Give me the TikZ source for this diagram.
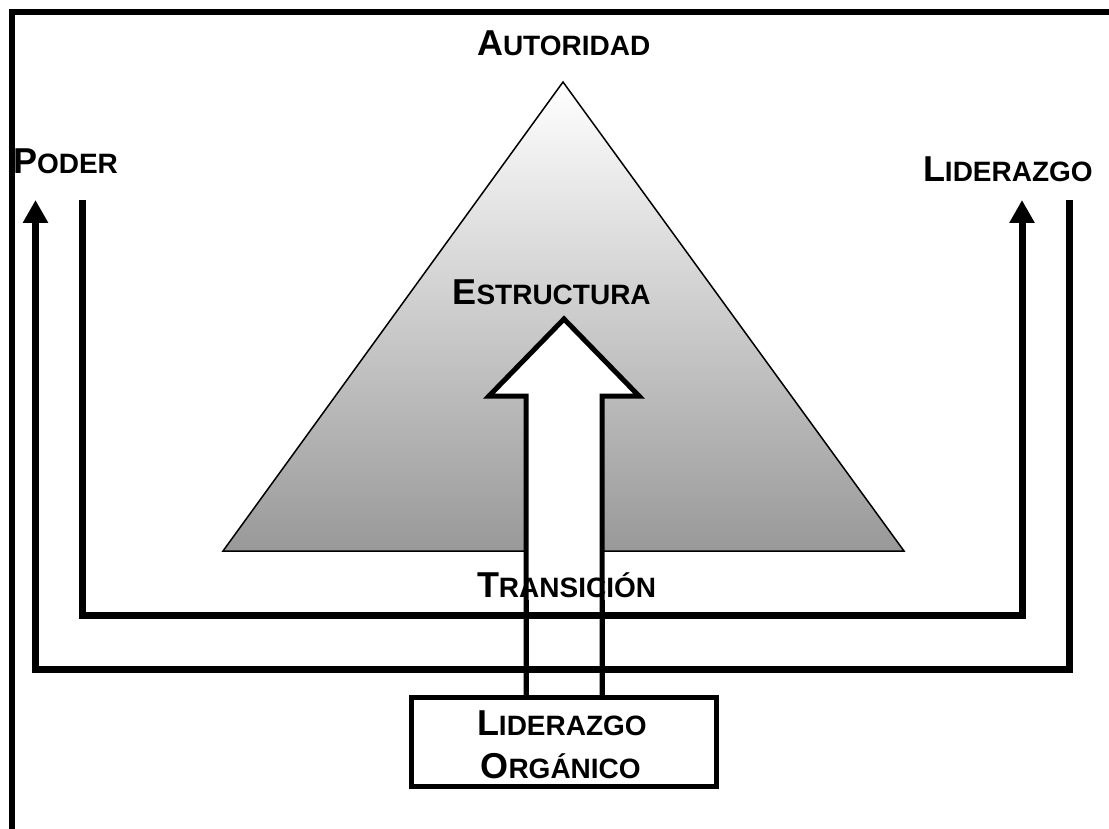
\documentclass[tikz,border=0pt]{standalone}
\usepackage{fontspec}
\setmainfont{Liberation Sans}
\usetikzlibrary{arrows.meta}
\newcommand{\SCx}[2]{{\fontsize{36}{40}\selectfont\bfseries #1}{\fontsize{28}{32}\selectfont\bfseries #2}}
\begin{document}
\begin{tikzpicture}[x=1pt,y=-1pt,
  lbl/.style={inner sep=0pt, outer sep=0pt, anchor=base west},
  conn/.style={line width=7pt, line join=miter, line cap=butt},
  tipA/.style={-{Triangle[length=23pt,width=24pt]}}]
\useasboundingbox (0,0) rectangle (1109,829);
% frame
\draw[line width=6pt, line join=miter] (12,829) -- (12,12) -- (1109,12);
% pyramid
\coordinate (apex) at (563,82);
\coordinate (bl) at (223,551);
\coordinate (br) at (904,551);
\shade[top color=white, bottom color=black!40] (apex) -- (bl) -- (br) -- cycle;
\draw[line width=1.5pt, line join=miter] (apex) -- (bl) -- (br) -- cycle;
% big white arrow
\coordinate (sl) at (526,697);
\coordinate (sr) at (602,697);
\coordinate (tip) at (564,319);
\draw[line width=5pt, fill=white, line join=miter]
  (sl) -- (526,396) -- (489,396) -- (tip) -- (639,396) -- (602,396) -- (sr);
% box
\node[draw, line width=5pt, fill=white, minimum width=305pt, minimum height=89pt, inner sep=0pt] (org) at (563.5,741.5) {};
% connectors
\coordinate (pr) at (1069,200);
\coordinate (prb) at (1069,669);
\coordinate (plb) at (35.5,669);
\coordinate (pl) at (35.5,200);
\draw[conn, tipA] (pr) -- (prb) -- (plb) -- (pl);
\coordinate (ll) at (82,200);
\coordinate (llb) at (82,615);
\coordinate (lrb) at (1022,615);
\coordinate (lr) at (1022,200);
\draw[conn, tipA] (ll) -- (llb) -- (lrb) -- (lr);
% labels
\node[lbl] (poder) at (13,174) {\SCx{P}{ODER}};
\node[lbl] (lid) at (923,182) {\SCx{L}{IDERAZGO}};
\node[lbl] (aut) at (477,56) {\SCx{A}{UTORIDAD}};
\node[lbl] (est) at (452.5,305) {\SCx{E}{STRUCTURA}};
\node[lbl] (tra) at (477,597) {\SCx{T}{RANSICIÓN}};
\node[lbl] (lo1) at (477,735) {\SCx{L}{IDERAZGO}};
\node[lbl] (lo2) at (480.5,778) {\SCx{O}{RGÁNICO}};
\draw[line width=5pt] (sl) -- (526,600);
\draw[line width=5pt] (sr) -- (602,600);
\end{tikzpicture}
\end{document}
